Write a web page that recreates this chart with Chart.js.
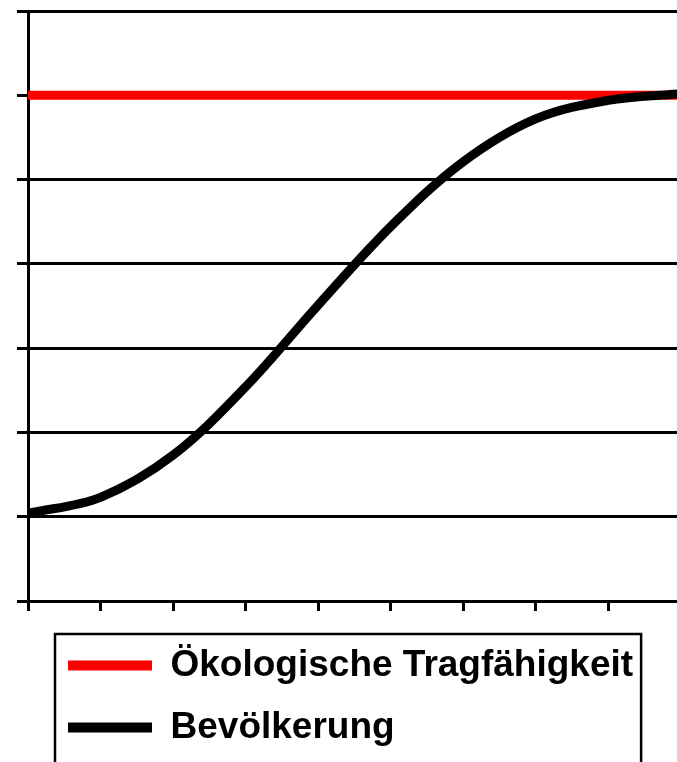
<!DOCTYPE html>
<html>
<head>
<meta charset="utf-8">
<title>Tragfähigkeit</title>
<script src="https://cdn.jsdelivr.net/npm/chart.js@4/dist/chart.umd.min.js"></script>
<style>
    body { margin: 0; background: #ffffff; }
    canvas { display: block; }
</style>
</head>
<body>
<canvas id="capacityChart" width="677" height="762"></canvas>
<script>
// Zeitschritte (x) und Werte in Gitterlinien-Einheiten
const steps = [0, 1, 2, 3, 4, 5, 6, 7, 8, 9];
const capacity = [6, 6, 6, 6, 6, 6, 6, 6, 6, 6];
const population = [1.04, 1.23, 1.73, 2.54, 3.51, 4.44, 5.21, 5.72, 5.94, 6.02];
const seriesNames = ['Ökologische Tragfähigkeit', 'Bevölkerung'];
const seriesColors = ['#ff0000', '#000000'];

function toPoints(values) {
    return steps.map((s, i) => ({ x: s, y: values[i] }));
}

// Legend sits a bit to the right of the canvas edge, with a frame around it
const legendFrame = {
    id: 'legendFrame',
    afterLayout(chart) {
        const lg = chart.legend;
        lg.left += 43;
        lg.right += 43;
    },
    afterDraw(chart) {
        const lg = chart.legend;
        const first = lg.legendHitBoxes[0];
        const ctx = chart.ctx;
        const left = lg.left + 12;
        const top = lg.top + 12;
        const right = first.left + first.width + 8;
        ctx.save();
        ctx.strokeStyle = '#000000';
        ctx.lineWidth = 2.5;
        ctx.strokeRect(left, top, right - left, 200);
        ctx.restore();
    }
};

const ctx = document.getElementById('capacityChart').getContext('2d');
const capacityChart = new Chart(ctx, {
    type: 'line',
    data: {
        datasets: [{
            label: seriesNames[0],
            data: toPoints(capacity),
            borderColor: seriesColors[0],
            borderWidth: 9,
            pointRadius: 0,
            tension: 0,
            order: 1
        }, {
            label: seriesNames[1],
            data: toPoints(population),
            borderColor: seriesColors[1],
            borderWidth: 9,
            borderJoinStyle: 'round',
            pointRadius: 0,
            tension: 0.35,
            order: 0
        }]
    },
    options: {
        responsive: false,
        animation: false,
        layout: {
            padding: { top: 11, right: 0, bottom: 6, left: 0 }
        },
        scales: {
            x: {
                type: 'linear',
                min: 0,
                max: 8.95,
                ticks: { display: false, stepSize: 1, includeBounds: false },
                grid: {
                    drawOnChartArea: false,
                    drawTicks: true,
                    tickLength: 10,
                    color: '#000000',
                    lineWidth: 3
                },
                border: { color: '#000000', width: 3 },
                afterFit(scale) { scale.height = 21; }
            },
            y: {
                min: 0,
                max: 7,
                ticks: { display: false, stepSize: 1 },
                grid: {
                    drawTicks: true,
                    tickLength: 11,
                    color: '#000000',
                    lineWidth: 3
                },
                border: { color: '#000000', width: 3 },
                afterFit(scale) { scale.width = 28; }
            }
        },
        plugins: {
            tooltip: { enabled: false },
            legend: {
                position: 'bottom',
                align: 'start',
                labels: {
                    boxWidth: 84,
                    boxHeight: 10,
                    padding: 25,
                    color: '#000000',
                    font: { family: 'Liberation Sans, Arial, sans-serif', size: 37, weight: 'bold' },
                    generateLabels(chart) {
                        return seriesNames.map((name, i) => ({
                            text: name,
                            fillStyle: seriesColors[i],
                            strokeStyle: seriesColors[i],
                            lineWidth: 0,
                            fontColor: '#000000',
                            datasetIndex: i
                        }));
                    }
                }
            }
        }
    },
    plugins: [legendFrame]
});
</script>
</body>
</html>
